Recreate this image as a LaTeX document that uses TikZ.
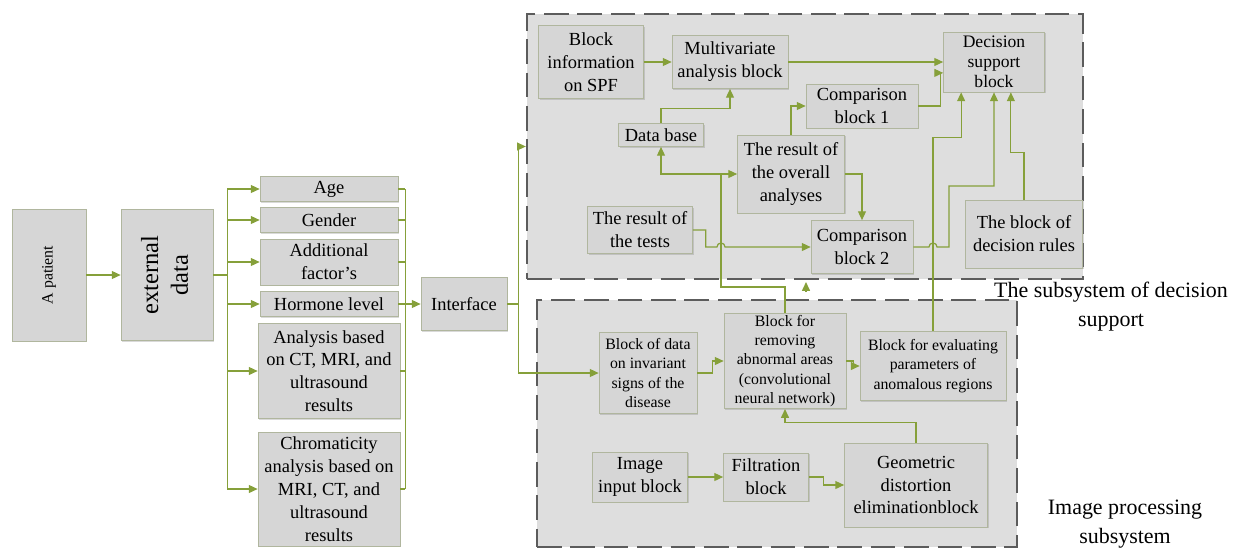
\documentclass[tikz,border=0pt]{standalone}
\usepackage{fontspec}
\setmainfont{Liberation Serif}
\usetikzlibrary{arrows.meta,shadows}
\definecolor{LinkGreen}{RGB}{134,160,58}
\definecolor{BoxGray}{RGB}{214,214,214}
\definecolor{PanelGray}{RGB}{222,222,222}
\definecolor{BoxEdge}{RGB}{176,182,158}
\definecolor{DashGray}{RGB}{92,92,92}

\begin{document}
\begin{tikzpicture}[x=0.02cm, y=-0.02cm,
  box/.style={draw=BoxEdge, fill=BoxGray, rectangle, align=center, inner sep=1pt,
    font=\fontsize{10.5}{13}\selectfont,
    drop shadow={shadow xshift=0.8pt, shadow yshift=-0.8pt, opacity=0.3}},
  smallbox/.style={box, font=\fontsize{9}{11}\selectfont},
  panel/.style={draw=DashGray, fill=PanelGray, line width=1.4pt,
    dash pattern=on 14pt off 5pt, rectangle, inner sep=0pt},
  link/.style={draw=LinkGreen, line width=0.7pt},
  conn/.style={link, -{Triangle[length=5pt, width=4.5pt]}},
  caption/.style={align=center, font=\fontsize{12.5}{16.5}\selectfont}]
\useasboundingbox (0,0) rectangle (1248,552);

% Panels
\node[panel, minimum width=11.12cm, minimum height=5.3cm] (dsspanel) at (805,146.5) {};
\node[panel, minimum width=9.6cm, minimum height=4.94cm] (imgpanel) at (777,423.5) {};

% Nodes
\node[box, minimum width=1.48cm, minimum height=2.64cm, font=\fontsize{9}{11}\selectfont] (patient) at (49,275) {\rotatebox{90}{A patient}};
\node[box, minimum width=1.84cm, minimum height=2.62cm, font=\fontsize{14}{17}\selectfont] (extdata) at (167,275) {\rotatebox{90}{\begin{tabular}{@{}c@{}}external\\data\end{tabular}}};

\node[box, minimum width=2.76cm, minimum height=0.5cm] (age) at (329,189) {Age};
\node[box, minimum width=2.76cm, minimum height=0.5cm] (gender) at (329,220) {Gender};
\node[box, minimum width=2.76cm, minimum height=0.92cm] (addfac) at (329,262) {Additional\\factor’s};
\node[box, minimum width=2.76cm, minimum height=0.5cm] (hormone) at (329,304) {Hormone level};
\node[box, minimum width=2.84cm, minimum height=1.9cm] (anct) at (329,371) {Analysis based\\on CT, MRI, and\\ultrasound\\results};
\node[box, minimum width=2.84cm, minimum height=2.28cm] (chroma) at (329,489) {Chromaticity\\analysis based on\\MRI, CT, and\\ultrasound\\results};

\node[box, minimum width=1.72cm, minimum height=1.06cm] (iface) at (464,304) {Interface};

\node[box, minimum width=2.1cm, minimum height=1.46cm] (spf) at (591,62) {Block\\information\\on SPF};
\node[box, minimum width=2.32cm, minimum height=1.06cm] (multi) at (730,62) {Multivariate\\analysis block};
\node[box, minimum width=1.7cm, minimum height=0.46cm] (dbase) at (661,135) {Data base};
\node[box, minimum width=2.14cm, minimum height=1.56cm] (overall) at (791,174) {The result of\\the overall\\analyses};
\node[box, minimum width=2.24cm, minimum height=0.88cm] (comp1) at (862,106) {Comparison\\block 1};
\node[box, minimum width=2.02cm, minimum height=1.2cm, font=\fontsize{10}{11.5}\selectfont] (decision) at (994,62) {Decision\\support\\block};
\node[box, minimum width=2.1cm, minimum height=0.94cm] (tests) at (640,230) {The result of\\the tests};
\node[box, minimum width=2.04cm, minimum height=1.06cm] (comp2) at (862,247) {Comparison\\block 2};
\node[box, minimum width=2.34cm, minimum height=1.36cm] (rules) at (1024,234) {The block of\\decision rules};

\node[smallbox, minimum width=1.96cm, minimum height=1.62cm] (invar) at (648,373) {Block of data\\on invariant\\signs of the\\disease};
\node[smallbox, minimum width=2.44cm, minimum height=1.9cm] (removing) at (785,361) {Block for\\removing\\abnormal areas\\(convolutional\\neural network)};
\node[smallbox, minimum width=2.92cm, minimum height=1.38cm] (evaluating) at (933,366) {Block for evaluating\\parameters of\\anomalous regions};
\node[box, minimum width=1.9cm, minimum height=1cm] (imginput) at (640,477) {Image\\input block};
\node[box, minimum width=1.7cm, minimum height=0.96cm] (filtration) at (766,477) {Filtration\\block};
\node[box, minimum width=2.86cm, minimum height=1.68cm] (geometric) at (916,485) {Geometric\\distortion\\eliminationblock};

\node[caption] (dsslabel) at (1111,307) {The subsystem of decision\\support};
\node[caption] (imglabel) at (1125,524) {Image processing\\subsystem};

\coordinate (jn) at (721,174);
\coordinate (stub) at (806,292);

% Arrows
\draw[conn] (patient.east) -- (extdata.west);
\draw[link] (extdata.east) -- ++(14,0) coordinate (fork);
\draw[link] (fork |- age.west) -- (fork |- chroma.west);
\draw[conn] (fork |- age.west) -- (age.west);
\draw[conn] (fork |- gender.west) -- (gender.west);
\draw[conn] (fork |- addfac.west) -- (addfac.west);
\draw[conn] (fork |- hormone.west) -- (hormone.west);
\draw[conn] (fork |- anct.west) -- (anct.west);
\draw[conn] (fork |- chroma.west) -- (chroma.west);

\draw[link] (age.east) -- ++(7,0) coordinate (merge);
\draw[link] (merge) -- (merge |- chroma.east);
\draw[link] (gender.east) -- (merge |- gender.east);
\draw[link] (addfac.east) -- (merge |- addfac.east);
\draw[link] (hormone.east) -- (merge |- hormone.east);
\draw[link] (anct.east) -- (merge |- anct.east);
\draw[link] (chroma.east) -- (merge |- chroma.east);
\draw[conn] (merge |- iface.west) -- (iface.west);

\draw[conn] (iface.east) -- ++(11,0) |- (dsspanel.west);
\draw[conn] (iface.east) -- ++(11,0) |- (invar.west);

\draw[conn] (spf.east) -- (multi.west);
\draw[conn] (dbase.north) -- ++(0,-15) -| (multi.south);
\draw[conn] (multi.east) -- (multi.east -| decision.west);
\draw[conn] (overall.north) |- (comp1.west);
\draw[conn] (comp1.east) -- ++(22,0) |- ([yshift=-6.2pt]decision.west);
\draw[conn] (overall.east) -| (comp2.north);

\draw[link] (removing.north) -- ++(0,-26) -| (jn);
\draw[conn] (jn) -| (dbase.south);
\draw[conn] (jn) -- (overall.west);

\draw[conn] (tests.east) -- ++(13,0) |- ([xshift=-2.3pt]jn |- comp2.west)
  arc[start angle=180, end angle=0, radius=2.3pt] -- (comp2.west);
\draw[conn] (comp2.east) -- ([xshift=-2.3pt]evaluating.north |- comp2.east)
  arc[start angle=180, end angle=0, radius=2.3pt] -- ++(12,0) -- ++(0,-61) -| (decision.south);
\draw[conn] (evaluating.north) -- ++(0,-194) -| ([xshift=-18.7pt]decision.south);
\draw[conn] (rules.north) -- ++(0,-47) -| ([xshift=9.6pt]decision.south);
\draw[conn] (stub) -- ++(0,-10);

\draw[conn] (invar.east) -- ++(15,0) |- (removing.west);
\draw[conn] (removing.east) -- ++(7,0) |- (evaluating.west);
\draw[conn] (imginput.east) -- (filtration.west);
\draw[conn] (filtration.east) -- ++(15,0) |- (geometric.west);
\draw[conn] (geometric.north) -- ++(0,-20) -| (removing.south);
\end{tikzpicture}
\end{document}
